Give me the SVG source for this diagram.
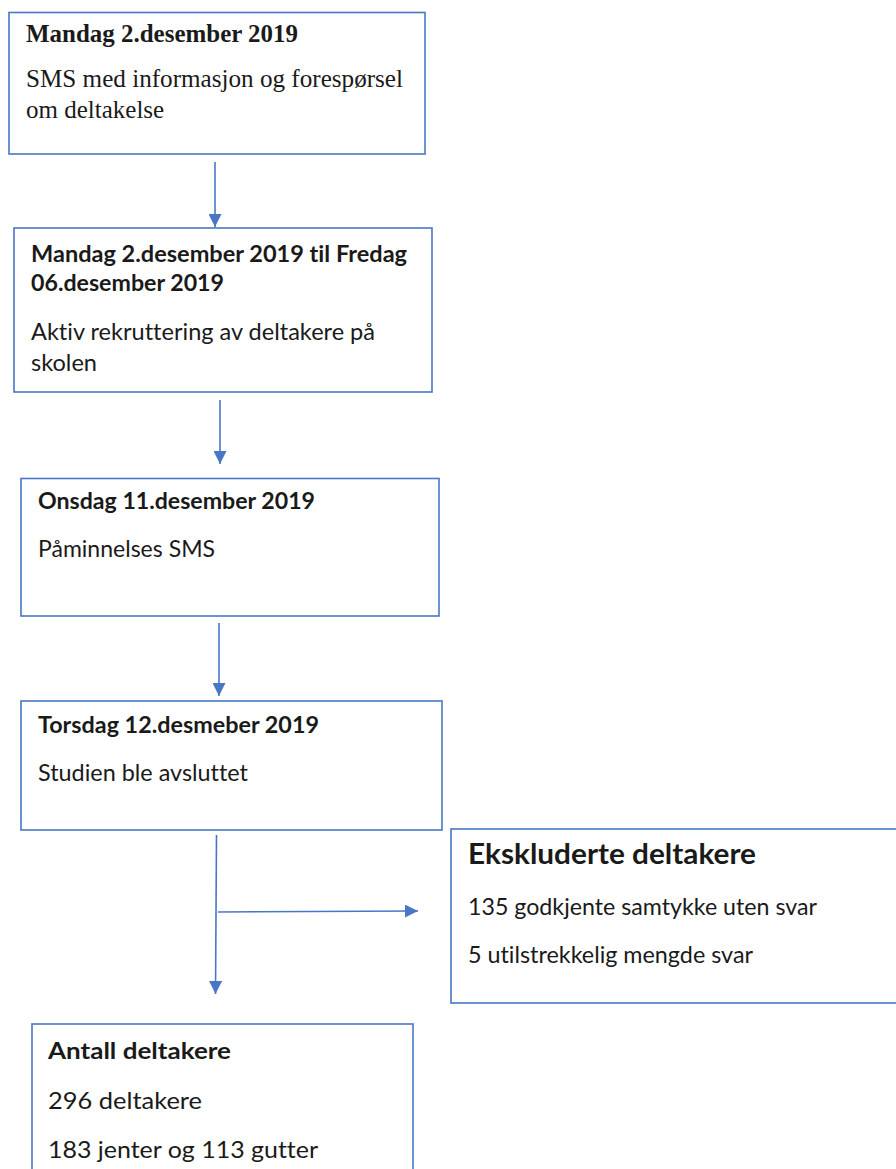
<svg xmlns="http://www.w3.org/2000/svg" width="896" height="1169" viewBox="0 0 896 1169">
<style>
.box{fill:#ffffff;stroke:#4a76c6;stroke-width:1.6}
.conn{stroke:#4a76c6;stroke-width:1.6;fill:none}
.serif{font-family:"Liberation Serif","Times New Roman",serif;font-size:25px;fill:#1a1a1a}
.sans{font-family:Lato,"Open Sans","Liberation Sans",sans-serif;font-size:23px;fill:#1a1a1a;font-variant-ligatures:none;font-feature-settings:"liga" 0,"dlig" 0,"clig" 0}
.b{font-weight:bold}
.big{font-size:29px}
</style>
<defs>
<marker id="ah" markerUnits="userSpaceOnUse" markerWidth="13" markerHeight="13" refX="13" refY="6.5" orient="auto">
<path d="M0,0 L13,6.5 L0,13 Z" fill="#4a76c6"/>
</marker>
</defs>
<rect x="0" y="0" width="896" height="1169" fill="#ffffff"/>
<g id="connectors">
<line class="conn" x1="215" y1="162" x2="215" y2="227" marker-end="url(#ah)"/>
<line class="conn" x1="220" y1="400" x2="220" y2="464" marker-end="url(#ah)"/>
<line class="conn" x1="219" y1="623" x2="219" y2="696" marker-end="url(#ah)"/>
<line class="conn" x1="216.5" y1="835" x2="215.5" y2="994" marker-end="url(#ah)"/>
<line class="conn" x1="218" y1="912" x2="418" y2="911" marker-end="url(#ah)"/>
</g>
<g id="node1">
<rect class="box" x="9" y="12.5" width="416" height="141.5"/>
<text class="serif b" x="26" y="42" textLength="272" lengthAdjust="spacingAndGlyphs">Mandag 2.desember 2019</text>
<text class="serif" x="26" y="87" textLength="377" lengthAdjust="spacingAndGlyphs">SMS med informasjon og forespørsel</text>
<text class="serif" x="26" y="118">om deltakelse</text>
</g>
<g id="node2">
<rect class="box" x="14" y="228" width="418" height="164"/>
<text class="sans b" x="31" y="262" textLength="376" lengthAdjust="spacingAndGlyphs">Mandag 2.desember 2019 til Fredag</text>
<text class="sans b" x="31" y="291" textLength="193" lengthAdjust="spacingAndGlyphs">06.desember 2019</text>
<text class="sans" x="31" y="340" textLength="344" lengthAdjust="spacingAndGlyphs">Aktiv rekruttering av deltakere på</text>
<text class="sans" x="31" y="371" textLength="66" lengthAdjust="spacingAndGlyphs">skolen</text>
</g>
<g id="node3">
<rect class="box" x="21" y="478.5" width="418" height="137.5"/>
<text class="sans b" x="38" y="509" textLength="277" lengthAdjust="spacingAndGlyphs">Onsdag 11.desember 2019</text>
<text class="sans" x="38" y="557" textLength="177" lengthAdjust="spacingAndGlyphs">Påminnelses SMS</text>
</g>
<g id="node4">
<rect class="box" x="21" y="701" width="421" height="129"/>
<text class="sans b" x="38" y="733" textLength="281" lengthAdjust="spacingAndGlyphs">Torsdag 12.desmeber 2019</text>
<text class="sans" x="38" y="781" textLength="210" lengthAdjust="spacingAndGlyphs">Studien ble avsluttet</text>
</g>
<g id="node5">
<rect class="box" x="451" y="829" width="460" height="174"/>
<text class="sans b big" x="468" y="864" textLength="288" lengthAdjust="spacingAndGlyphs">Ekskluderte deltakere</text>
<text class="sans" x="468" y="915" textLength="349" lengthAdjust="spacingAndGlyphs">135 godkjente samtykke uten svar</text>
<text class="sans" x="468" y="963" textLength="285" lengthAdjust="spacingAndGlyphs">5 utilstrekkelig mengde svar</text>
</g>
<g id="node6">
<rect class="box" x="32" y="1024" width="381" height="160"/>
<text class="sans b" x="48" y="1059" textLength="183" lengthAdjust="spacingAndGlyphs">Antall deltakere</text>
<text class="sans" x="48" y="1109" textLength="154" lengthAdjust="spacingAndGlyphs">296 deltakere</text>
<text class="sans" x="48" y="1158" textLength="270" lengthAdjust="spacingAndGlyphs">183 jenter og 113 gutter</text>
</g>
</svg>
